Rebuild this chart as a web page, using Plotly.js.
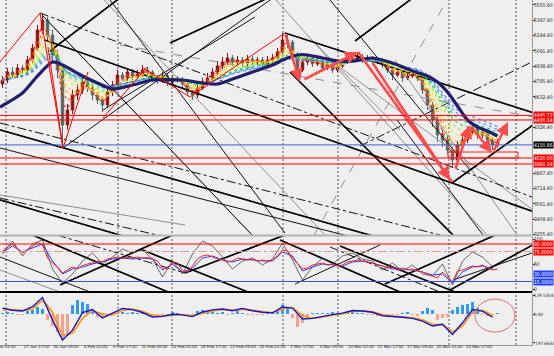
<!DOCTYPE html>
<html><head><meta charset="utf-8">
<script src="https://cdn.plot.ly/plotly-3.0.1.min.js"></script>
<style>html,body{margin:0;padding:0;background:#efefef}#chart{width:554px;height:356px}</style>
</head><body><div id="chart"></div>
<script>
// ---------- price data (candles) ----------
const firstOpen = 4760;
const closes = [4800,4880,4850,4920,4900,5000,5120,5300,5400,5250,
 5050,4900,4350,4500,4650,4700,4780,4720,4650,4600,
 4550,4680,4750,4850,4820,4880,4840,4860,4900,4880,
 4820,4800,4840,4780,4820,4800,4760,4680,4650,4720,
 4780,4820,4880,4940,4980,5020,4980,5000,4970,5010,
 4980,5000,4960,5000,5020,5080,5200,5180,5050,4900,
 4980,5020,4960,4980,4920,4950,4900,4940,4980,5020,
 5000,5030,5000,5020,4980,5000,4950,4900,4850,4880,
 4820,4840,4860,4820,4700,4550,4400,4250,4200,4100,
 4000,4150,4200,4280,4320,4250,4280,4200,4150,4180];
const highs = [4840,4920,4930,4960,4950,5040,5160,5350,5470,5430,
 5300,5100,4920,4560,4700,4760,4830,4800,4750,4680,
 4630,4720,4790,4900,4880,4920,4910,4900,4950,4930,
 4900,4850,4880,4870,4850,4840,4830,4780,4700,4760,
 4820,4870,4920,4990,5030,5070,5050,5040,5030,5050,
 5040,5030,5030,5040,5060,5120,5270,5250,5200,5080,
 5020,5060,5050,5020,5010,4990,4980,4980,5020,5060,
 5050,5070,5060,5050,5040,5030,5020,4970,4920,4920,
 4900,4870,4890,4880,4840,4720,4580,4430,4300,4240,
 4130,4190,4260,4330,4370,4350,4320,4300,4230,4210];
const lows = [4720,4770,4820,4820,4870,4870,4970,5090,5260,5180,
 4980,4820,4120,4300,4460,4600,4660,4680,4600,4560,
 4480,4520,4640,4720,4790,4790,4800,4810,4830,4850,
 4780,4760,4770,4740,4750,4770,4720,4640,4600,4620,
 4700,4750,4790,4850,4910,4950,4940,4950,4930,4940,
 4950,4950,4930,4940,4970,5000,5050,5120,5000,4820,
 4880,4950,4930,4940,4890,4900,4870,4880,4920,4960,
 4970,4980,4970,4980,4950,4960,4920,4870,4800,4830,
 4780,4800,4820,4790,4660,4500,4330,4180,4130,4060,
 3920,3980,4120,4170,4250,4210,4220,4150,4100,4130];

// slow moving average (navy)
const navyX = [-0.5,4,7,10,12,16,19,22,26,30,36,40,43,46,50,54,56,59,61,64,67,70,74,78,82,85,87,89,91,93,95,97,99];
const navyP = [4530,4670,4840,4980,4950,4840,4770,4710,4750,4800,4800,4770,4760,4810,4880,4950,5000,5050,5050,5020,4990,4990,5020,4970,4890,4840,4780,4680,4540,4400,4330,4290,4240];

// ribbon EMA periods
const emaPeriods = [2,3,4,5,7,9,11,13,15,17];

// ---------- oscillator data ----------
const evenX = [0,2,4,6,8,10,12,14,16,18,20,22,24,26,28,30,32,34,36,38,40,42,44,46,48,50,52,54,56,58,60,62,64,66,68,70,72,74,76,78,80,82,84,86,88,90,92,94,96,98];
const rsiRed = [76,84,90,80,72,78,86,93,88,62,
 52,44,32,38,44,40,47,50,52,56,
 54,60,62,64,61,63,62,64,62,63,
 60,56,42,40,54,52,36,34,46,60,
 66,68,64,60,58,54,56,62,60,58,
 60,56,58,56,58,66,78,76,62,52,
 40,42,48,50,52,48,50,46,48,54,
 56,58,56,54,52,48,46,42,44,38,
 42,38,40,36,34,30,26,22,34,24,
 14,36,38,42,46,44,48,42,38,40];
const rsiBlue = [74,86,74,82,90,56,30,40,44,50,
 55,60,62,60,62,60,38,50,34,42,
 62,66,58,54,60,58,56,56,74,66,
 36,44,50,48,46,54,56,52,46,40,
 40,38,34,28,30,12,34,44,46,40];
const rsiGray = [70,96,66,90,98,40,12,30,56,72,
 50,64,80,72,78,60,24,56,30,70,
 96,86,64,40,56,62,48,60,92,58,
 18,44,62,50,66,72,60,56,38,52,
 36,48,30,26,50,8,56,74,64,44];
const macdMain = [40,26,20,50,112,-40,-177,-110,10,30,
 -27,5,38,30,10,-20,-16,-2,-6,-18,
 14,28,34,22,38,22,12,8,48,40,
 -34,-30,-16,-4,6,24,20,12,-12,-16,
 -22,-30,-48,-82,-70,-140,-60,30,20,-22];
const macdSignal = [30,30,24,36,90,10,-140,-130,-30,20,
 0,-5,25,32,18,-8,-15,-6,-5,-12,
 4,20,30,26,32,26,16,10,34,42,
 -10,-28,-20,-8,2,18,20,14,-4,-14,
 -20,-26,-40,-70,-72,-120,-80,10,24,-10];
const macdHist = [10,12,8,-6,-4,20,30,45,35,-40,
 -80,-120,-170,-150,60,95,80,70,30,-20,
 -30,-15,10,20,15,8,12,6,5,3,
 -8,-15,-20,-10,12,8,-6,-14,-10,18,
 25,20,12,8,14,-8,6,18,10,-5,
 -10,-6,-8,5,10,30,60,40,-30,-90,
 -60,-20,4,8,10,6,12,8,10,14,
 18,10,6,-5,-8,-12,-10,-14,-6,-10,
 8,14,-8,-12,20,40,30,-40,-30,-20,
 30,50,60,70,80,40,-10,-15,-12,10];

// ---------- axis ticks ----------
const xTickVals = [0.1,6.8,12.7,18.6,24.5,30.4,36.3,42.2,48.1,54.0,59.9,65.8,71.7,77.6,83.5,89.4,95.3];
const xTickText = ["26 Jan 01:00","27 Jan 17:00","30 Jan 09:00","4 Feb 01:00","6 Feb 17:00","11 Feb 09:00","14 Feb 01:00","18 Feb 17:00","22 Feb 09:00","25 Feb 01:00","1 Mar 17:00","5 Mar 09:00","10 Mar 01:00","12 Mar 17:00","17 Mar 09:00","20 Mar 01:00","24 Mar 17:00"];
const mainTicks = [5550.4,5397.4,5244.4,5091.4,4938.4,4785.4,4632.4,4326.4,3867.4,3714.4,3561.4,3408.4,3255.4];
const rsiTicks = [100,50,0];
const macdTicks = [129.5354,0,-197.6633];
const macdTickText = ['129.5354','0.00','-197.6633'];
const periodSeparators = [0.7,23.1,33.9,56.1,67.1,89.3,102.7];

// ---------- drawn objects (data units: candle index, price / value) ----------
const mainThick = [[8.5,5200,107.5,3460],[56.5,5270,107.5,4450],[-2.5,4330,75.5,3220],[-4.5,3660,27.5,3190],
 [57.5,4880,91.5,3180],[89.9,3770,107.5,4400],[9.5,5090,24.5,5660],[70.5,5190,83.1,5660],[33.5,5170,53.5,5630]];
const mainThin = [[-0.5,4120,71.5,3210],[7.9,5450,49.9,3250],[21.5,5600,56.5,3270],[78.9,4400,96.1,3250],
 [65.5,5600,93.5,3900],[12.1,4120,53.5,5600],[20.1,4500,50.5,5430]];
const mainGray = [[8.9,5400,50.9,3200],[20.3,5600,64.5,3250],[54.7,5600,96.9,3250],[78.5,5000,102.9,3250],
 [61.9,5200,79.5,4300],[65.5,5000,107.5,3450],[-0.5,3650,36.5,3350]];
const mainDashDot = [[-0.5,4370,87.5,3250],[-0.5,3620,30.9,3250],[7.5,5470,107.5,3600],[71.5,4140,107.5,5020]];
const mainGrayDash = [[23.5,5150,107.5,4420],[62.3,3250,88.9,5600]];
const redZigzag = [[-0.5,4980,7.5,5470],[7.5,5470,12.1,4120],[9.1,5130,12.1,4120],[12.1,4120,17.1,4880],
 [20.1,4420,28.9,4930],[28.1,4920,37.5,4630],[37.5,4630,56.5,5270]];
const redThick = [[71.1,5080,89.9,3780]];
const redArrows = [[56.5,5270,59.5,4780],[60.1,4800,71.1,5080],[73.9,4980,89.5,3800],
 [90.5,3900,93.5,4350],[93.5,4350,97.9,4070],[98.1,4080,101.1,4380]];
const redBox = [89.1,4020,103.1,4080];
const redLevels = [4445.72,4400.34,4020.00,3960.34];
const bidLevel = 4150.86;

const rsiThick = [[5.5,110,35.5,-16],[11.5,8,34.5,110],[27.5,80,49.1,-6],[55.5,98,79.5,-6],
 [36.5,32,56.5,108],[76.5,10,99.5,112],[89.5,-2,107.5,96],[67.5,86,90.5,-6]];
const rsiThin = [[-0.5,64,17.5,-6],[58.5,10,75.5,88],[90.1,18,105.9,72]];
const rsiGrayLines = [[-0.5,38,11.5,-6]];
const rsiDashDot = [[7.5,118,36.5,32],[65.5,84,87.5,-6]];
const rsiRedLevels = [90,75];
const rsiBlueLevels = [30,15];
const macdCircle = [94.5,-123,102.5,102];

// ---------- build ----------
const FONT = 'DejaVu Sans Condensed, Liberation Sans, Arial, sans-serif';
const XFONT = 'Liberation Sans, Arial, sans-serif';
const candleX = closes.map((_, i) => i);
const opens = closes.map((c, i) => i === 0 ? firstOpen : closes[i - 1]);

function ema(vals, n) {
  const k = 2 / (n + 1); const out = []; let e = vals[0];
  vals.forEach((v, i) => { e = i === 0 ? v : v * k + e * (1 - k); out.push(e); });
  return out;
}
function seg(segs, yaxis, color, width, dash) {
  const x = [], y = [];
  segs.forEach(s => { x.push(s[0], s[2], null); y.push(s[1], s[3], null); });
  return {type:'scatter', mode:'lines', x, y, xaxis:'x', yaxis, line:{color, width, dash: dash || 'solid'},
    hoverinfo:'skip', showlegend:false};
}

const traces = [];
traces.push(seg(mainGray, 'y', '#8c8c8c', 1));
traces.push(seg(mainGrayDash, 'y', '#8c8c8c', 1, 'dash'));
traces.push(seg(mainThin, 'y', '#111', 1));
traces.push(seg(mainDashDot, 'y', '#111', 1, 'dashdot'));
traces.push(seg(mainThick, 'y', '#000', 1.7));

const ribbonColors = ['#ff1a1a','#ff5a00','#ff9900','#ffc800','#e6e600','#99e000','#33d633','#00c8a0','#3399ff','#5a6cff'];
emaPeriods.forEach((p, k) => {
  traces.push({type:'scatter', mode:'lines', x:candleX, y:ema(closes, p), xaxis:'x', yaxis:'y',
    line:{color:ribbonColors[k], width:1.1, dash:'dot'}, opacity:0.95, hoverinfo:'skip', showlegend:false});
});
traces.push({type:'scatter', mode:'lines', x:navyX, y:navyP, xaxis:'x', yaxis:'y',
  line:{color:'#1f1f6e', width:3.2, shape:'spline', smoothing:0.7}, hoverinfo:'skip', showlegend:false});
traces.push({type:'candlestick', x:candleX, open:opens, high:highs, low:lows, close:closes, xaxis:'x', yaxis:'y',
  increasing:{line:{color:'#8b1010', width:1}, fillcolor:'#8b1010'},
  decreasing:{line:{color:'#4f6a64', width:1}, fillcolor:'#4f6a64'},
  whiskerwidth:0, hoverinfo:'skip', showlegend:false});
traces.push(seg(redZigzag, 'y', '#ff0000', 1));
traces.push(seg(redThick, 'y', '#ff4d4d', 2.6));

// RSI panel
traces.push(seg(rsiGrayLines, 'y2', '#8c8c8c', 1));
traces.push(seg(rsiThin, 'y2', '#111', 1));
traces.push(seg(rsiDashDot, 'y2', '#111', 1, 'dashdot'));
traces.push(seg(rsiThick, 'y2', '#000', 1.7));
traces.push({type:'scatter', mode:'lines', x:evenX, y:rsiGray, xaxis:'x', yaxis:'y2',
  line:{color:'#444', width:0.8}, hoverinfo:'skip', showlegend:false});
traces.push({type:'scatter', mode:'lines', x:evenX, y:rsiBlue, xaxis:'x', yaxis:'y2',
  line:{color:'#2a3cff', width:1}, hoverinfo:'skip', showlegend:false});
traces.push({type:'scatter', mode:'lines', x:candleX, y:rsiRed, xaxis:'x', yaxis:'y2',
  line:{color:'#ff2020', width:1}, hoverinfo:'skip', showlegend:false});

// MACD panel
traces.push({type:'bar', x:candleX, y:macdHist, xaxis:'x', yaxis:'y3', width:0.6,
  marker:{color:macdHist.map(v => v >= 0 ? '#3399ff' : '#ffa08c'), line:{width:0}},
  hoverinfo:'skip', showlegend:false});
traces.push({type:'scatter', mode:'lines', x:evenX, y:macdSignal, xaxis:'x', yaxis:'y3',
  line:{color:'#ff9a1a', width:1.8, shape:'spline', smoothing:0.5}, hoverinfo:'skip', showlegend:false});
traces.push({type:'scatter', mode:'lines', x:evenX, y:macdMain, xaxis:'x', yaxis:'y3',
  line:{color:'#1414c8', width:1.4}, hoverinfo:'skip', showlegend:false});

// shapes
const shapes = [];
periodSeparators.forEach(gx => shapes.push({type:'line', xref:'x', yref:'paper', x0:gx, x1:gx, y0:0, y1:1,
  line:{color:'#555', width:1, dash:'2px,2px'}, layer:'below'}));
redLevels.forEach(v => shapes.push({type:'line', xref:'paper', yref:'y', x0:0, x1:1, y0:v, y1:v,
  line:{color:'#ff0000', width:1}}));
shapes.push({type:'line', xref:'paper', yref:'y', x0:0, x1:1, y0:bidLevel, y1:bidLevel, line:{color:'#3a5fd8', width:1}});
shapes.push({type:'rect', xref:'x', yref:'y', x0:redBox[0], y0:redBox[1], x1:redBox[2], y1:redBox[3],
  line:{color:'#ff2020', width:1}});
shapes.push({type:'line', xref:'paper', yref:'y2', x0:0, x1:1, y0:rsiRedLevels[0], y1:rsiRedLevels[0], line:{color:'#ff0000', width:1}});
shapes.push({type:'line', xref:'paper', yref:'y2', x0:0, x1:1, y0:rsiRedLevels[1], y1:rsiRedLevels[1], line:{color:'#ff9090', width:1, dash:'dashdot'}});
shapes.push({type:'line', xref:'paper', yref:'y2', x0:0, x1:1, y0:rsiBlueLevels[1], y1:rsiBlueLevels[1], line:{color:'#3a4fe0', width:1}});
shapes.push({type:'circle', xref:'x', yref:'y3', x0:macdCircle[0], y0:macdCircle[1], x1:macdCircle[2], y1:macdCircle[3],
  line:{color:'#e06a6a', width:1}});
// panel separators
shapes.push({type:'line', xref:'paper', yref:'paper', x0:0, x1:1, y0:1-235.5/345, y1:1-235.5/345, line:{color:'#b4b4b4', width:2}});
shapes.push({type:'line', xref:'paper', yref:'paper', x0:0, x1:1, y0:1-292/345, y1:1-292/345, line:{color:'#000', width:2}});

// annotations: arrows + right-side value labels
const annotations = [];
redArrows.forEach(a => annotations.push({x:a[2], y:a[3], ax:a[0], ay:a[1], xref:'x', yref:'y', axref:'x', ayref:'y',
  showarrow:true, arrowhead:2, arrowsize:1, arrowwidth:2.6, arrowcolor:'#ff4d4d', text:''}));
function tag(yref, v, txt, bg) {
  annotations.push({xref:'paper', x:1, xanchor:'left', xshift:1, yref, y:v, yanchor:'middle', text:txt, showarrow:false,
    bgcolor:bg, borderpad:0, font:{family:FONT, size:5, color:'#fff'}});
}
redLevels.forEach(v => tag('y', v, v.toFixed(2), '#ff0000'));
tag('y', bidLevel, bidLevel.toFixed(2), '#000');
rsiRedLevels.forEach(v => tag('y2', v, v.toFixed(4), '#ff0000'));
rsiBlueLevels.forEach(v => tag('y2', v, v.toFixed(4), '#2040ff'));

const yBase = {side:'right', anchor:'x', showgrid:false, zeroline:false, showline:true, linecolor:'#9a9a9a',
  ticks:'outside', ticklen:2, tickcolor:'#333', ticklabelstandoff:-2,
  tickfont:{family:FONT, size:5, color:'#222'}, fixedrange:true};
const layout = {
  width:554, height:356, margin:{l:0, r:22, t:0, b:11, autoexpand:false},
  paper_bgcolor:'#efefef', plot_bgcolor:'#efefef', showlegend:false, hovermode:false, bargap:0,
  xaxis:{domain:[0,1], range:[-0.5,105.9], anchor:'y3', tickvals:xTickVals, ticktext:xTickText, ticks:'',
    tickangle:0, ticklabelstandoff:-3, ticklabeloverflow:'allow',
    tickfont:{family:XFONT, size:4.4, color:'#222'}, showgrid:false, zeroline:false, showline:true, linecolor:'#9a9a9a',
    rangeslider:{visible:false}, fixedrange:true},
  yaxis:Object.assign({}, yBase, {domain:[1-235/345, 1], range:[3250,5600], tickvals:mainTicks,
    ticktext:mainTicks.map(v => v.toFixed(2))}),
  yaxis2:Object.assign({}, yBase, {domain:[1-292/345, 1-236/345], range:[-6,106], tickvals:rsiTicks,
    ticktext:rsiTicks.map(String)}),
  yaxis3:Object.assign({}, yBase, {domain:[0, 1-293/345], range:[-211.4,143.2], tickvals:macdTicks,
    ticktext:macdTickText, tickfont:{family:FONT, size:4.5, color:'#222'}}),
  shapes, annotations
};
Plotly.newPlot('chart', traces, layout, {staticPlot:true, displayModeBar:false});
</script></body></html>
